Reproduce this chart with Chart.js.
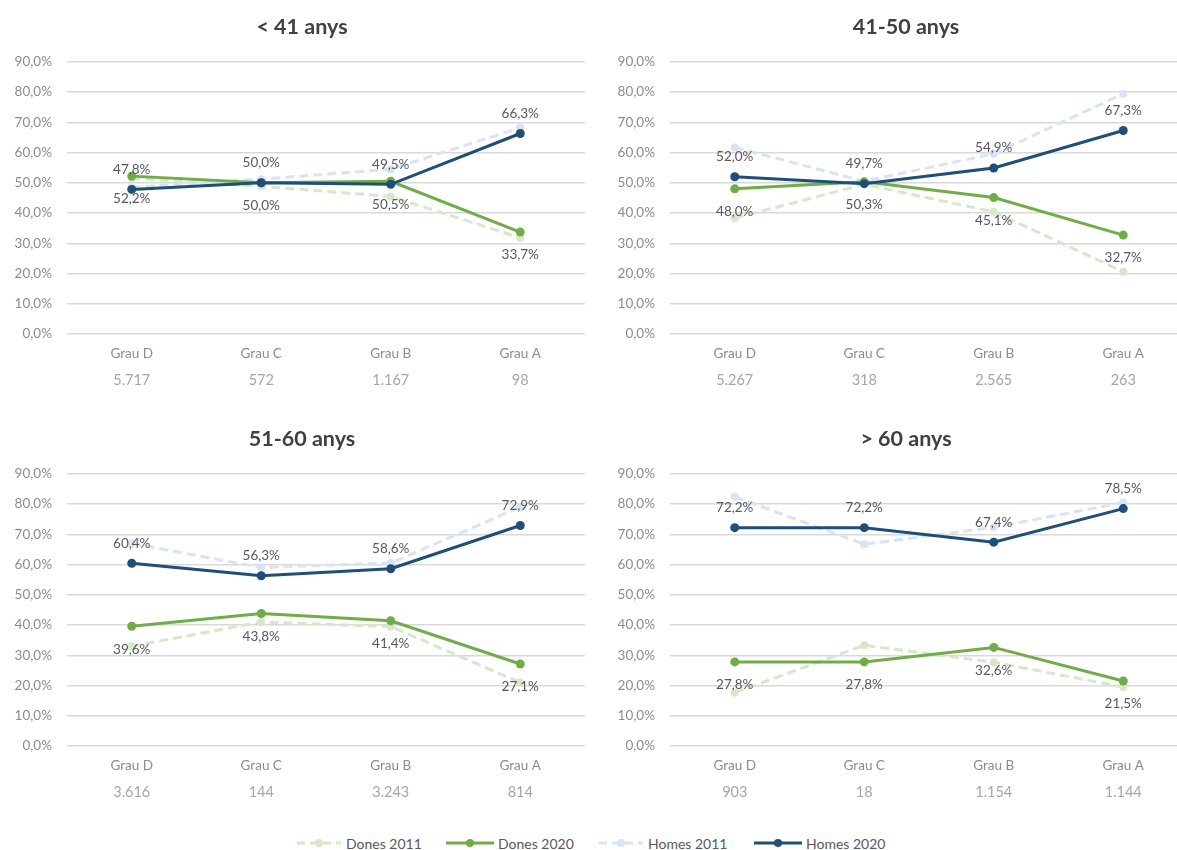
<!DOCTYPE html>
<html>
<head>
<meta charset="utf-8">
<title>Distribució per grau i sexe</title>
<script src="https://cdn.jsdelivr.net/npm/chart.js@4.4.1/dist/chart.umd.min.js"></script>
<style>
  html, body { margin: 0; padding: 0; background: #fff; overflow: hidden; }
  #page { position: relative; width: 1177px; height: 850px; overflow: hidden; background: #fff; }
  .panel { position: absolute; }
  .legend-item { position: absolute; top: 834px; height: 18px; display: flex; align-items: center;
                 font-family: Lato, "Open Sans", sans-serif; font-size: 14px; color: #595959; white-space: nowrap; }
  .legend-item svg { margin-right: 4px; }
</style>
</head>
<body>
<div id="page">
  <div class="panel" style="left:0;top:0;width:604px;height:400px"><canvas id="c1"></canvas></div>
  <div class="panel" style="left:604px;top:0;width:590px;height:400px"><canvas id="c2"></canvas></div>
  <div class="panel" style="left:0;top:412px;width:604px;height:400px"><canvas id="c3"></canvas></div>
  <div class="panel" style="left:604px;top:412px;width:590px;height:400px"><canvas id="c4"></canvas></div>

  <div class="legend-item" style="left:296px">
    <svg width="46" height="12"><line x1="1" y1="6" x2="45" y2="6" stroke="#d5e8c9" stroke-width="3" stroke-dasharray="8,5"/><circle cx="23" cy="6" r="4" fill="#d5e8c9"/></svg>Dones 2011
  </div>
  <div class="legend-item" style="left:446px">
    <svg width="48" height="12"><line x1="0" y1="6" x2="48" y2="6" stroke="#70ad47" stroke-width="3"/><circle cx="24" cy="6" r="4" fill="#70ad47"/></svg>Dones 2020
  </div>
  <div class="legend-item" style="left:598px">
    <svg width="46" height="12"><line x1="1" y1="6" x2="45" y2="6" stroke="#d6e4f5" stroke-width="3" stroke-dasharray="8,5"/><circle cx="23" cy="6" r="4" fill="#d6e4f5"/></svg>Homes 2011
  </div>
  <div class="legend-item" style="left:754px">
    <svg width="48" height="12"><line x1="0" y1="6" x2="48" y2="6" stroke="#1f4e79" stroke-width="3"/><circle cx="24" cy="6" r="4" fill="#1f4e79"/></svg>Homes 2020
  </div>
</div>

<script>
// Categories and per-grade headcounts
const grades = ['Grau D', 'Grau C', 'Grau B', 'Grau A'];

const counts_lt41   = ['5.717', '572', '1.167', '98'];
const counts_41_50  = ['5.267', '318', '2.565', '263'];
const counts_51_60  = ['3.616', '144', '3.243', '814'];
const counts_gt60   = ['903', '18', '1.154', '1.144'];

// Percentages by age group (%)
const dones2011_lt41 = [51.5, 48.8, 45.5, 31.8];
const dones2020_lt41 = [52.2, 50.0, 50.5, 33.7];
const homes2011_lt41 = [48.5, 51.2, 54.5, 68.2];
const homes2020_lt41 = [47.8, 50.0, 49.5, 66.3];

const dones2011_41_50 = [38.3, 49.5, 40.4, 20.6];
const dones2020_41_50 = [48.0, 50.3, 45.1, 32.7];
const homes2011_41_50 = [61.7, 50.5, 59.6, 79.4];
const homes2020_41_50 = [52.0, 49.7, 54.9, 67.3];

const dones2011_51_60 = [33.0, 41.0, 39.5, 21.0];
const dones2020_51_60 = [39.6, 43.8, 41.4, 27.1];
const homes2011_51_60 = [67.0, 59.0, 60.5, 79.0];
const homes2020_51_60 = [60.4, 56.3, 58.6, 72.9];

const dones2011_gt60 = [17.6, 33.3, 27.7, 19.5];
const dones2020_gt60 = [27.8, 27.8, 32.6, 21.5];
const homes2011_gt60 = [82.4, 66.7, 72.3, 80.5];
const homes2020_gt60 = [72.2, 72.2, 67.4, 78.5];

const yTicks = [0, 10, 20, 30, 40, 50, 60, 70, 80, 90];

const FONT = 'Lato, "Open Sans", sans-serif';
const fmt = v => v.toFixed(1).replace('.', ',');

// Writes the value of each 2020 point above (men) or below (women) its marker
const valueLabels = {
  id: 'valueLabels',
  afterDatasetsDraw(chart) {
    const ctx = chart.ctx;
    ctx.save();
    ctx.font = '13.5px ' + FONT;
    ctx.fillStyle = '#595959';
    ctx.textAlign = 'center';
    ctx.textBaseline = 'middle';
    chart.data.datasets.forEach((ds, i) => {
      if (!ds.labelPos) return;
      const meta = chart.getDatasetMeta(i);
      meta.data.forEach((pt, j) => {
        const dy = ds.labelPos === 'above' ? -20 : 23;
        ctx.fillText(fmt(ds.data[j]) + '%', pt.x, pt.y + dy);
      });
    });
    ctx.restore();
  }
};

// Centres the panel title over the whole panel rather than the padded layout box
const titleSpan = {
  id: 'titleSpan',
  afterLayout(chart) {
    const t = chart.titleBlock;
    if (t) { t.left = 0; t.right = 604; t.width = 604; }
  }
};

function makeChart(id, title, d11, d20, h11, h20, counts, yWidth, padRight) {
  const dashed = (label, data, color, order) => ({
    label, data, order,
    borderColor: color, backgroundColor: color,
    borderWidth: 3, borderDash: [9, 5],
    pointRadius: 4, pointBorderWidth: 0, pointBackgroundColor: color,
    tension: 0
  });
  const solid = (label, data, color, order, labelPos) => ({
    label, data, order, labelPos,
    borderColor: color, backgroundColor: color,
    borderWidth: 3,
    pointRadius: 4.5, pointBorderWidth: 0, pointBackgroundColor: color,
    tension: 0
  });

  return new Chart(document.getElementById(id), {
    type: 'line',
    data: {
      labels: grades,
      datasets: [
        dashed('Dones 2011', d11, '#d5e8c9', 3),
        solid('Dones 2020', d20, '#70ad47', 1, 'below'),
        dashed('Homes 2011', h11, '#d6e4f5', 2),
        solid('Homes 2020', h20, '#1f4e79', 0, 'above')
      ]
    },
    options: {
      responsive: true,
      maintainAspectRatio: false,
      animation: false,
      layout: { padding: { left: 0, right: padRight, top: 0, bottom: 0 } },
      plugins: {
        legend: { display: false },
        tooltip: { enabled: false },
        title: {
          display: true,
          text: title,
          color: '#404040',
          font: { family: FONT, size: 21.5, weight: 'bold', lineHeight: 1.2 },
          padding: { top: 14, bottom: 22 }
        }
      },
      scales: {
        x: {
          type: 'category',
          position: 'bottom',
          weight: 0,
          offset: true,
          grid: { display: false, drawTicks: false },
          border: { display: false },
          ticks: { color: '#8c8c8c', font: { family: FONT, size: 13.5 }, padding: 12, maxRotation: 0 },
          afterFit: s => { s.height = 28; }
        },
        xCount: {
          type: 'category',
          position: 'bottom',
          weight: 1,
          offset: true,
          labels: counts,
          grid: { display: false, drawTicks: false },
          border: { display: false },
          ticks: { color: '#a6a6a6', font: { family: FONT, size: 14.5 }, padding: 10, maxRotation: 0 },
          afterFit: s => { s.height = 38; }
        },
        y: {
          min: 0,
          max: 90,
          afterBuildTicks: s => { s.ticks = yTicks.map(v => ({ value: v })); },
          grid: { color: '#d9d9d9', lineWidth: 1.5, drawTicks: false },
          border: { display: false },
          ticks: {
            color: '#8c8c8c',
            font: { family: FONT, size: 13.5 },
            padding: 15,
            callback: v => fmt(v) + '%'
          },
          afterFit: s => { s.width = yWidth; }
        }
      }
    },
    plugins: [valueLabels, titleSpan]
  });
}

makeChart('c1', '< 41 anys',  dones2011_lt41,  dones2020_lt41,  homes2011_lt41,  homes2020_lt41,  counts_lt41,  67, 19);
makeChart('c2', '41-50 anys', dones2011_41_50, dones2020_41_50, homes2011_41_50, homes2020_41_50, counts_41_50, 66, 6);
makeChart('c3', '51-60 anys', dones2011_51_60, dones2020_51_60, homes2011_51_60, homes2020_51_60, counts_51_60, 67, 19);
makeChart('c4', '> 60 anys',  dones2011_gt60,  dones2020_gt60,  homes2011_gt60,  homes2020_gt60,  counts_gt60,  66, 6);
</script>
</body>
</html>
